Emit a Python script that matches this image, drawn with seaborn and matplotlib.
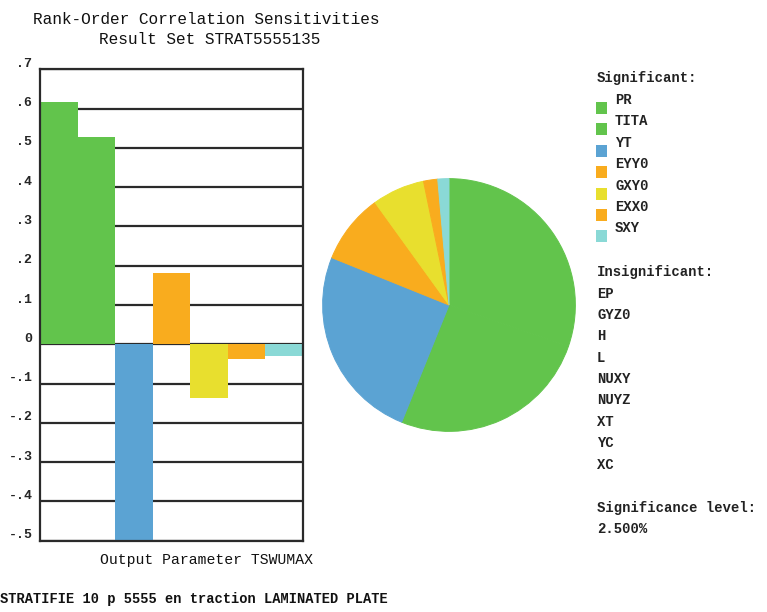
import matplotlib
matplotlib.use("Agg")
import matplotlib.pyplot as plt
import matplotlib.transforms as mtransforms
from matplotlib.patches import Rectangle
import seaborn as sns
import pandas as pd
import numpy as np

# ---- data ----
params = ["PR", "TITA", "YT", "EYY0", "GXY0", "EXX0", "SXY"]
correlations = [0.618, 0.527, -0.51, 0.1825, -0.137, -0.037, -0.029]
colors = ["#62c44c", "#62c44c", "#5ba3d3", "#f9ac1e", "#e8df2e", "#f9ac1e", "#8ad9d6"]
insignificant = ["EP", "GYZ0", "H", "L", "NUXY", "NUYZ", "XT", "YC", "XC"]
ytick_vals = [0.7, 0.6, 0.5, 0.4, 0.3, 0.2, 0.1, 0.0, -0.1, -0.2, -0.3, -0.4, -0.5]
ytick_labels = [".7", ".6", ".5", ".4", ".3", ".2", ".1", "0", "-.1", "-.2", "-.3", "-.4", "-.5"]
significance = "2.500%"

sns.set_theme(style="white")
plt.rcParams["font.family"] = ["Liberation Mono", "DejaVu Sans Mono"]

W, H = 767, 612
fig = plt.figure(figsize=(W / 100, H / 100), dpi=100)

def fx(px):
    return px / W

def fy(py):
    return 1 - py / H

# ---- bar chart ----
ax = fig.add_axes([fx(40), fy(540.7), fx(303) - fx(40), fy(69.3) - fy(540.7)])
df = pd.DataFrame({"param": params, "corr": correlations})
sns.barplot(data=df, x="param", y="corr", hue="param", palette=colors,
            width=1.0, legend=False, ax=ax, linewidth=0, saturation=1)
ax.set_xlim(-0.5, len(params) - 0.5)
ax.set_ylim(-0.5, 0.7)
ax.set_yticks(ytick_vals)
ax.set_yticklabels(ytick_labels, fontsize=9.5, fontweight="bold")
ax.set_xticks([])
ax.set_xlabel("")
ax.set_ylabel("")
ax.yaxis.grid(True, color="#2a2a2a", linewidth=1.6)
ax.set_axisbelow(True)
for s in ax.spines.values():
    s.set_visible(True)
    s.set_color("#2a2a2a")
    s.set_linewidth(1.6)
ax.tick_params(axis="y", direction="out", length=3, width=1.2, color="#2a2a2a", pad=1)
offset = mtransforms.ScaledTranslation(-2 / 100, 7 / 100, fig.dpi_scale_trans)
for lab in ax.get_yticklabels():
    lab.set_transform(lab.get_transform() + offset)

# ---- pie chart ----
cx, cy, r = 449, 305, 127
axp = fig.add_axes([fx(cx - r), fy(cy + r), fx(2 * r), fy(0) - fy(2 * r)])
wedges, _ = axp.pie(np.abs(correlations), colors=colors, startangle=90, counterclock=False,
                    radius=1, wedgeprops=dict(linewidth=0.7))
for w in wedges:
    w.set_edgecolor(w.get_facecolor())
axp.set_xlim(-1.005, 1.005)
axp.set_ylim(-1.005, 1.005)
axp.set_aspect("equal")
axp.axis("off")

# ---- titles ----
fig.text(fx(206), fy(20), "Rank-Order Correlation Sensitivities", ha="center", va="center",
         fontsize=11.6, color="#111111")
fig.text(fx(210), fy(40), "Result Set STRAT5555135", ha="center", va="center",
         fontsize=11.6, color="#111111")
fig.text(fx(206), fy(560), "Output Parameter TSWUMAX", ha="center", va="center",
         fontsize=10.6, color="#111111")
fig.text(fx(0.5), fy(599), "STRATIFIE 10 p 5555 en traction LAMINATED PLATE", ha="left",
         va="center", fontsize=9.9, fontweight="bold", color="#111111")

# ---- legend ----
lx = 597
fs = 10.0
fig.text(fx(lx), fy(78), "Significant:", ha="left", va="center", fontsize=fs,
         fontweight="bold", color="#222222")
step = 21.4
for i, (p, c) in enumerate(zip(params, colors)):
    sq_y = 108 + step * i
    fig.add_artist(Rectangle((fx(596), fy(sq_y + 6)), fx(11), fy(0) - fy(12),
                             transform=fig.transFigure, facecolor=c, edgecolor="none"))
    fig.text(fx(615), fy(sq_y - 8), p, ha="left", va="center", fontsize=fs,
             fontweight="bold", color="#222222")

fig.text(fx(lx), fy(272), "Insignificant:", ha="left", va="center", fontsize=fs,
         fontweight="bold", color="#222222")
for i, p in enumerate(insignificant):
    fig.text(fx(lx), fy(293.5 + 21.4 * i), p, ha="left", va="center", fontsize=fs,
             fontweight="bold", color="#222222")
fig.text(fx(lx), fy(508), "Significance level:", ha="left", va="center", fontsize=fs,
         fontweight="bold", color="#222222")
fig.text(fx(lx), fy(529), significance, ha="left", va="center", fontsize=fs,
         fontweight="bold", color="#222222")

fig.savefig("out.png", dpi=100, facecolor="white")
